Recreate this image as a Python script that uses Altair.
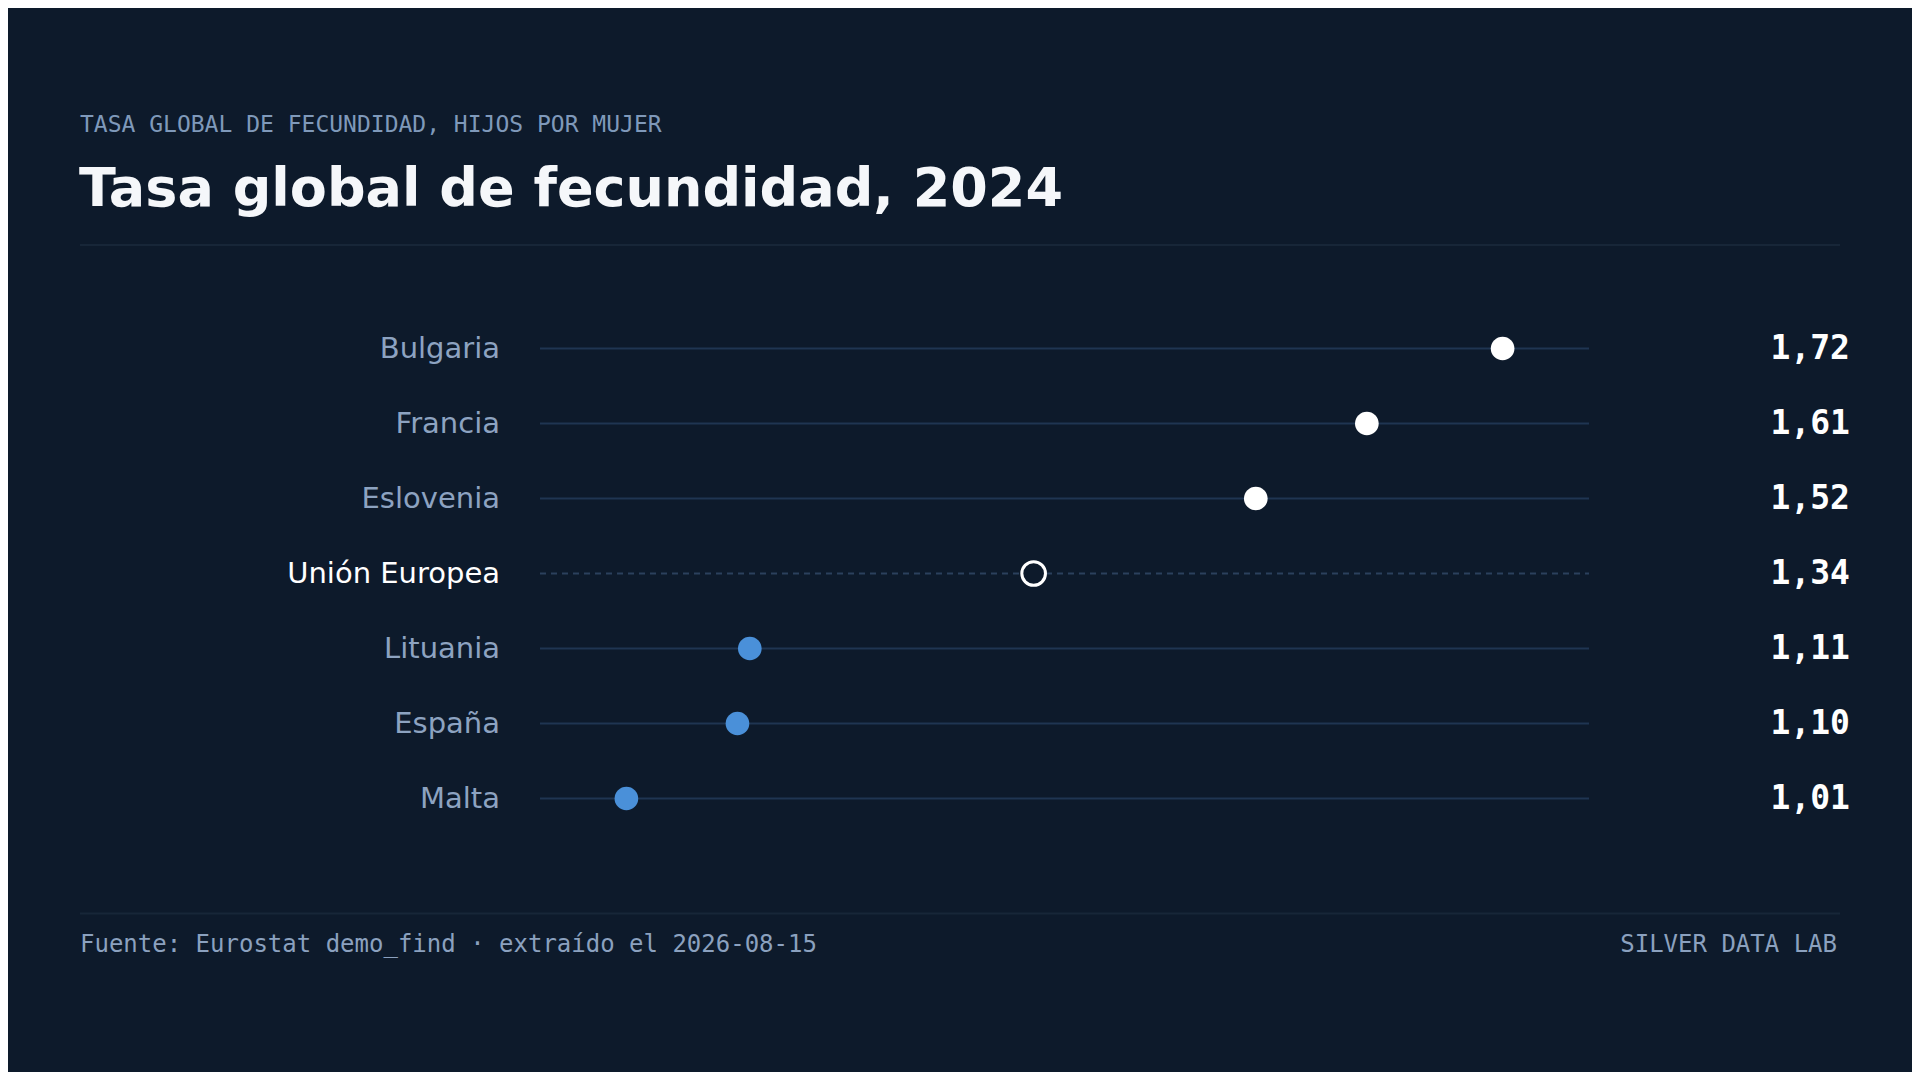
import altair as alt
import pandas as pd

# ---- data ----
countries = ["Bulgaria", "Francia", "Eslovenia", "Unión Europea", "Lituania", "España", "Malta"]
values = [1.72, 1.61, 1.52, 1.34, 1.11, 1.10, 1.01]
groups = ["alto", "alto", "alto", "ue", "bajo", "bajo", "bajo"]
value_labels = [f"{v:.2f}".replace(".", ",") for v in values]
x_domain = [0.94, 1.79]

kicker = "TASA GLOBAL DE FECUNDIDAD, HIJOS POR MUJER"
title = "Tasa global de fecundidad, 2024"
source = "Fuente: Eurostat demo_find · extraído el 2026-08-15"
brand = "SILVER DATA LAB"

# ---- style ----
BG = "#0d1a2b"
LABEL_C = "#8da3c1"
KICK_C = "#7f99ba"
FOOT_C = "#8ba1bf"
LINE_C = "#1f3552"
DASH_C = "#2b405d"
DIV_C = "#172638"
BLUE = "#4a90d9"
WHITE = "#ffffff"

W, H = 1904, 1064
PL, PT = 532, 303
plot_w, plot_h = 1049, 525
PR = W - PL - plot_w
PB = H - PT - plot_h

df = pd.DataFrame({"country": countries, "value": values, "group": groups, "label": value_labels})

y_enc = alt.Y("country:N", sort=countries, axis=None,
              scale=alt.Scale(paddingInner=0, paddingOuter=0))
x_enc = alt.X("value:Q", axis=None, scale=alt.Scale(domain=x_domain, nice=False, zero=False))

base = alt.Chart(df)

rules = base.mark_rule(strokeWidth=2).encode(
    x=alt.value(0), x2=alt.value(plot_w), y=y_enc,
    stroke=alt.condition("datum.group == 'ue'", alt.value(DASH_C), alt.value(LINE_C)),
    strokeDash=alt.condition("datum.group == 'ue'", alt.value([6, 5]), alt.value([1, 0])),
)

dots = base.transform_filter("datum.group != 'ue'").mark_circle(size=560, opacity=1).encode(
    x=x_enc, y=y_enc,
    color=alt.Color("group:N", scale=alt.Scale(domain=["alto", "bajo"], range=[WHITE, BLUE]), legend=None),
)

ring = base.transform_filter("datum.group == 'ue'").mark_point(
    shape="circle", size=560, filled=True, fill=BG, stroke=WHITE, strokeWidth=3, opacity=1
).encode(x=x_enc, y=y_enc)

labels = base.mark_text(align="right", baseline="middle", font="DejaVu Sans", fontSize=29).encode(
    x=alt.value(-40), y=y_enc, text="country:N",
    color=alt.condition("datum.group == 'ue'", alt.value(WHITE), alt.value(LABEL_C)),
)

vals = base.mark_text(align="right", baseline="middle", font="DejaVu Sans Mono", fontSize=33,
                      fontWeight="bold", color=WHITE).encode(
    x=alt.value(1310), y=y_enc, text="label:N",
)

def text_layer(t, x, y, align, **kw):
    return alt.Chart(pd.DataFrame({"t": [t]})).mark_text(align=align, baseline="alphabetic", **kw).encode(
        x=alt.value(x), y=alt.value(y), text="t:N")

kicker_l = text_layer(kicker, -460, -179, "left", font="DejaVu Sans Mono", fontSize=23, color=KICK_C)
title_l = text_layer(title, -461, -105, "left", font="DejaVu Sans", fontSize=54, fontWeight="bold", color="#f5f7fa")
source_l = text_layer(source, -460, 641, "left", font="DejaVu Sans Mono", fontSize=24, color=FOOT_C)
brand_l = text_layer(brand, 1297, 641, "right", font="DejaVu Sans Mono", fontSize=24, color=FOOT_C)

def divider(y):
    return alt.Chart(pd.DataFrame({"k": [0]})).mark_rule(color=DIV_C, strokeWidth=2).encode(
        x=alt.value(-460), x2=alt.value(1300), y=alt.value(y))

chart = alt.layer(
    divider(-66), divider(602.5),
    rules, dots, ring, labels, vals,
    kicker_l, title_l, source_l, brand_l,
).properties(
    width=plot_w, height=plot_h,
    padding={"left": PL, "top": PT, "right": PR, "bottom": PB},
    autosize=alt.AutoSizeParams(type="none"),
    background=BG,
).configure_view(stroke=None)

chart.save("out.html", embed_options={"renderer": "svg", "actions": False})
